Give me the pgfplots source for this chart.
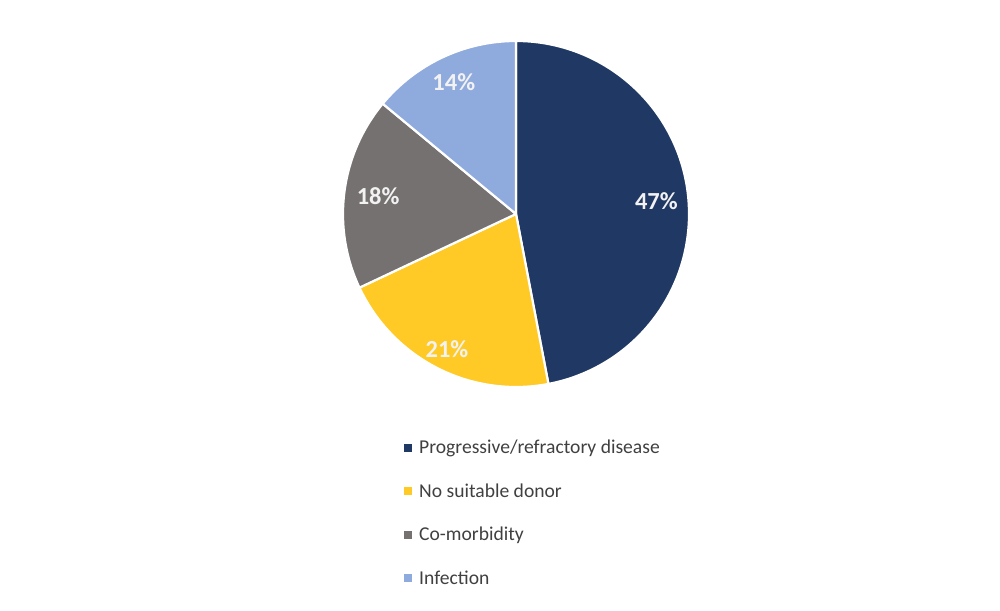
\documentclass[border=0pt]{standalone}
\usepackage{pgfplots}
\usepackage{pgfplotstable}
\usepackage{fontspec}
\setmainfont{Carlito}
\pgfplotsset{compat=1.18}
\definecolor{cnavy}{HTML}{203864}
\definecolor{cyellow}{HTML}{FFCA26}
\definecolor{cgray}{HTML}{767171}
\definecolor{cblue}{HTML}{8FAADC}
\definecolor{ctext}{HTML}{404040}
\definecolor{clab}{HTML}{F2F2F2}
\pgfplotstableread[col sep=comma]{
label,value
Progressive/refractory disease,47
No suitable donor,21
Co-morbidity,18
Infection,14
}\piedata
\begin{document}
\begin{tikzpicture}
\pgfplotstablegetelem{0}{value}\of\piedata \pgfmathsetmacro{\va}{\pgfplotsretval}
\pgfplotstablegetelem{1}{value}\of\piedata \pgfmathsetmacro{\vb}{\pgfplotsretval}
\pgfplotstablegetelem{2}{value}\of\piedata \pgfmathsetmacro{\vc}{\pgfplotsretval}
\pgfplotstablegetelem{3}{value}\of\piedata \pgfmathsetmacro{\vd}{\pgfplotsretval}
\pgfmathsetmacro{\aA}{90}
\pgfmathsetmacro{\aB}{\aA-3.6*\va}
\pgfmathsetmacro{\aC}{\aB-3.6*\vb}
\pgfmathsetmacro{\aD}{\aC-3.6*\vc}
\pgfmathsetmacro{\aE}{\aD-3.6*\vd}
\pgfmathsetmacro{\mA}{(\aA+\aB)/2}
\pgfmathsetmacro{\mB}{(\aB+\aC)/2}
\pgfmathsetmacro{\mC}{(\aC+\aD)/2}
\pgfmathsetmacro{\mD}{(\aD+\aE)/2}
\pgfmathtruncatemacro{\pa}{\va}
\pgfmathtruncatemacro{\pb}{\vb}
\pgfmathtruncatemacro{\pc}{\vc}
\pgfmathtruncatemacro{\pd}{\vd}
\def\R{173pt}
\tikzset{slice/.style={draw=white, line width=2.2pt, line join=round},
  plab/.style={text=clab, font=\bfseries\fontsize{24.5}{28}\selectfont},
  leg/.style={anchor=west, inner sep=0pt, text=ctext, font=\fontsize{19.6}{22}\selectfont}}
\begin{axis}[
  width=1000pt, height=610pt, scale only axis,
  xmin=0, xmax=1000, ymin=0, ymax=610,
  hide axis, clip=false,
]
\path (axis cs:0,0) rectangle (axis cs:1000,610);
\coordinate (c) at (axis cs:516,396);
\fill[cnavy, slice] (axis cs:516,396) -- ++(\aA:\R) arc[start angle=\aA, end angle=\aB, radius=\R] -- cycle;
\fill[cyellow, slice] (axis cs:516,396) -- ++(\aB:\R) arc[start angle=\aB, end angle=\aC, radius=\R] -- cycle;
\fill[cgray, slice] (axis cs:516,396) -- ++(\aC:\R) arc[start angle=\aC, end angle=\aD, radius=\R] -- cycle;
\fill[cblue, slice] (axis cs:516,396) -- ++(\aD:\R) arc[start angle=\aD, end angle=\aE, radius=\R] -- cycle;
\node[plab] at ([shift={(\mA:141pt)}]c) {\pa\%};
\node[plab] at ([shift={(\mB:152pt)}]c) {\pb\%};
\node[plab] at ([shift={(\mC:139pt)}]c) {\pc\%};
\node[plab] at ([shift={(\mD:146pt)}]c) {\pd\%};
\fill[cnavy] (axis cs:404,158) rectangle (axis cs:412,166);
\node[leg] at (axis cs:419,162) {Progressive/refractory disease};
\fill[cyellow] (axis cs:404,115) rectangle (axis cs:412,123);
\node[leg] at (axis cs:419,119) {No suitable donor};
\fill[cgray] (axis cs:404,71) rectangle (axis cs:412,79);
\node[leg] at (axis cs:419,75) {Co-morbidity};
\fill[cblue] (axis cs:404,28) rectangle (axis cs:412,36);
\node[leg] at (axis cs:419,32) {Infection};
\end{axis}
\end{tikzpicture}
\end{document}
